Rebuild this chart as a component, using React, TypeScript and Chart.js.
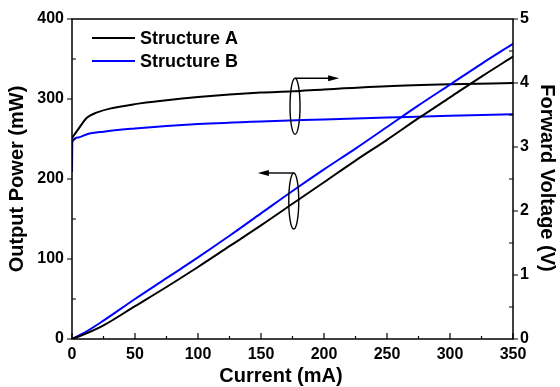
import React, { useEffect, useRef } from "react";
import { Chart, registerables } from "chart.js";

Chart.register(...registerables);

// ---- data ----
const currentPower = [0, 10, 25, 50, 75, 100, 125, 150, 175, 200, 225, 250, 275, 300, 325, 350];
const powerA = [0, 6, 17, 41, 65, 90, 116, 142, 169, 196, 223, 249, 276, 302, 328, 353];
const powerB = [0, 8, 23, 50, 76, 102, 129, 157, 185, 212, 238, 265, 292, 318, 344, 369];

const currentVoltA = [0, 5, 12, 20, 30, 50, 75, 100, 125, 150, 175, 200, 250, 300, 350];
const voltA = [3.14, 3.28, 3.46, 3.54, 3.6, 3.67, 3.73, 3.78, 3.82, 3.85, 3.87, 3.9, 3.95, 3.98, 4.0];

const currentVoltB = [0, 0.3, 5, 12, 25, 50, 75, 100, 150, 200, 250, 300, 350];
const voltB = [2.61, 3.08, 3.15, 3.2, 3.24, 3.29, 3.33, 3.36, 3.4, 3.43, 3.46, 3.49, 3.51];

const seriesNames = ["Structure A", "Structure B"];
const seriesColors = ["#000000", "#0000FF"];

const xTitle = "Current (mA)";
const yTitle = "Output Power (mW)";
const y1Title = "Forward Voltage (V)";

const FONT = "'Liberation Sans', Arial, sans-serif";

const toPts = (xs: number[], ys: number[]) => xs.map((x, i) => ({ x, y: ys[i] }));

const decorPlugin = {
  id: "decor",
  afterDatasetsDraw(chart: any) {
    const { ctx, chartArea: ca, scales } = chart;
    const xs = scales.x, ys = scales.y, y1 = scales.y1;
    ctx.save();
    ctx.strokeStyle = "#000";
    ctx.fillStyle = "#000";

    // frame
    ctx.lineWidth = 1.5;
    ctx.strokeRect(ca.left, ca.top, ca.right - ca.left, ca.bottom - ca.top);

    // ticks
    ctx.lineWidth = 1.2;
    ctx.beginPath();
    for (let v = 0; v <= 350; v += 25) {
      const px = xs.getPixelForValue(v);
      const len = v % 50 === 0 ? 6 : 3;
      ctx.moveTo(px, ca.bottom);
      ctx.lineTo(px, ca.bottom - len);
    }
    for (let v = 0; v <= 400; v += 50) {
      const py = ys.getPixelForValue(v);
      if (v % 100 === 0) {
        ctx.moveTo(ca.left, py);
        ctx.lineTo(ca.left - 5, py);
      } else {
        ctx.moveTo(ca.left, py);
        ctx.lineTo(ca.left + 4, py);
      }
    }
    for (let v = 0; v <= 5; v += 0.5) {
      const py = y1.getPixelForValue(v);
      if (Math.abs(v - Math.round(v)) < 1e-6) {
        ctx.moveTo(ca.right, py);
        ctx.lineTo(ca.right + 5, py);
      } else {
        ctx.moveTo(ca.right, py);
        ctx.lineTo(ca.right - 4, py);
      }
    }
    ctx.stroke();

    // annotations: ellipses with arrows
    const drawGroup = (cx: number, cy: number, cyTop: number, tipX: number) => {
      const px = xs.getPixelForValue(cx);
      const py = ys.getPixelForValue(cy);
      const pTop = ys.getPixelForValue(cyTop);
      const ry = py - pTop;
      ctx.lineWidth = 1.4;
      ctx.beginPath();
      ctx.ellipse(px, py, 5, ry, 0, 0, Math.PI * 2);
      ctx.stroke();
      const tx = xs.getPixelForValue(tipX);
      const dir = tx > px ? 1 : -1;
      ctx.beginPath();
      ctx.moveTo(px, pTop);
      ctx.lineTo(tx - dir * 9, pTop);
      ctx.stroke();
      ctx.beginPath();
      ctx.moveTo(tx, pTop);
      ctx.lineTo(tx - dir * 11, pTop - 3);
      ctx.lineTo(tx - dir * 11, pTop + 3);
      ctx.closePath();
      ctx.fill();
    };
    drawGroup(177, 291, 326, 212);
    drawGroup(176, 172.5, 207.5, 147.5);

    // legend
    ctx.font = `bold 18px ${FONT}`;
    ctx.textBaseline = "middle";
    ctx.textAlign = "left";
    const legY = [38, 61];
    seriesNames.forEach((name, i) => {
      ctx.strokeStyle = seriesColors[i];
      ctx.lineWidth = 2;
      ctx.beginPath();
      ctx.moveTo(92, legY[i]);
      ctx.lineTo(135, legY[i]);
      ctx.stroke();
      ctx.fillStyle = "#000";
      ctx.fillText(name, 140, legY[i] + 1);
    });

    // axis titles
    ctx.fillStyle = "#000";
    ctx.font = `bold 20px ${FONT}`;
    ctx.textAlign = "center";
    ctx.textBaseline = "middle";
    ctx.fillText(xTitle, 281, 376);
    const midY = (ca.top + ca.bottom) / 2;
    ctx.save();
    ctx.translate(17, midY);
    ctx.rotate(-Math.PI / 2);
    ctx.fillText(yTitle, 0, 0);
    ctx.restore();
    ctx.save();
    ctx.translate(547, midY - 1);
    ctx.rotate(Math.PI / 2);
    ctx.fillText(y1Title, 0, 0);
    ctx.restore();

    ctx.restore();
  },
};

export default function App() {
  const ref = useRef<HTMLCanvasElement | null>(null);
  useEffect(() => {
    document.body.style.margin = "0";
    const canvas = ref.current!;
    const tickFont = { family: FONT, weight: "bold" as const, size: 16 };
    const chart = new Chart(canvas, {
      type: "line",
      data: {
        datasets: [
          { label: "PA", data: toPts(currentPower, powerA), borderColor: seriesColors[0], yAxisID: "y" },
          { label: "PB", data: toPts(currentPower, powerB), borderColor: seriesColors[1], yAxisID: "y" },
          { label: "VA", data: toPts(currentVoltA, voltA), borderColor: seriesColors[0], yAxisID: "y1" },
          { label: "VB", data: toPts(currentVoltB, voltB), borderColor: seriesColors[1], yAxisID: "y1" },
        ].map((d) => ({
          ...d,
          borderWidth: 2,
          pointRadius: 0,
          fill: false,
          cubicInterpolationMode: "monotone" as const,
        })),
      },
      options: {
        responsive: false,
        animation: false,
        devicePixelRatio: 1,
        layout: { padding: { top: 19, left: 0, right: 0, bottom: 0 } },
        plugins: { legend: { display: false }, tooltip: { enabled: false } },
        scales: {
          x: {
            type: "linear",
            min: 0,
            max: 350,
            ticks: { stepSize: 50, font: tickFont, color: "#000", padding: 6, maxRotation: 0 },
            grid: { display: false, drawTicks: false },
            border: { display: false },
            afterFit: (s: any) => { s.height = 48; },
          },
          y: {
            type: "linear",
            position: "left",
            min: 0,
            max: 400,
            ticks: { stepSize: 100, font: tickFont, color: "#000", padding: 8 },
            grid: { display: false, drawTicks: false },
            border: { display: false },
            afterFit: (s: any) => { s.width = 72; },
          },
          y1: {
            type: "linear",
            position: "right",
            min: 0,
            max: 5,
            ticks: { stepSize: 1, font: tickFont, color: "#000", padding: 7 },
            grid: { display: false, drawTicks: false },
            border: { display: false },
            afterFit: (s: any) => { s.width = 47; },
          },
        },
      },
      plugins: [decorPlugin],
    });
    return () => chart.destroy();
  }, []);
  return <canvas ref={ref} width={560} height={387} style={{ display: "block" }} />;
}
